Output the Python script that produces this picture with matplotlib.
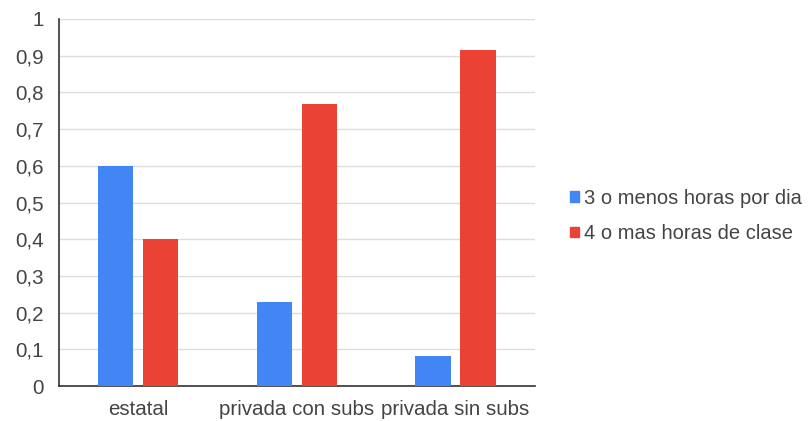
import numpy as np
import matplotlib.pyplot as plt
from matplotlib.patches import Patch

plt.rcParams['font.family'] = ['Liberation Sans', 'DejaVu Sans']

categorias = ["estatal", "privada con subs", "privada sin subs"]
menos_3 = [0.60, 0.228, 0.083]
mas_4 = [0.40, 0.767, 0.915]
series = ["3 o menos horas por dia", "4 o mas horas de clase"]
yticks = [0, 0.1, 0.2, 0.3, 0.4, 0.5, 0.6, 0.7, 0.8, 0.9, 1]
ylabels = ["0", "0,1", "0,2", "0,3", "0,4", "0,5", "0,6", "0,7", "0,8", "0,9", "1"]

azul = "#4285f4"
rojo = "#ea4335"
gris = "#444444"

fig = plt.figure(figsize=(8.12, 4.21), dpi=100)
ax = fig.add_axes([0.0727, 0.083, 0.586, 0.872])

x = np.arange(len(categorias))
w = 0.222
ax.bar(x - 0.142, menos_3, w, color=azul, zorder=3)
ax.bar(x + 0.142, mas_4, w, color=rojo, zorder=3)

ax.set_xlim(-0.5, 2.5)
ax.set_ylim(0, 1)
ax.set_yticks(yticks)
ax.set_yticklabels(ylabels)
ax.set_xticks(x)
ax.set_xticklabels(categorias)
ax.tick_params(axis='y', length=0, pad=11, labelsize=14.8, labelcolor=gris)
ax.tick_params(axis='x', length=0, pad=10, labelsize=14.8, labelcolor=gris)
ax.grid(axis='y', color="#dddddd", linewidth=1, zorder=0)

for s in ["top", "right"]:
    ax.spines[s].set_visible(False)
ax.spines["left"].set_color("#333333")
ax.spines["bottom"].set_color("#333333")
ax.spines["left"].set_linewidth(1.2)
ax.spines["bottom"].set_linewidth(1.2)

handles = [Patch(color=azul), Patch(color=rojo)]
leg = fig.legend(handles, series, loc="upper left", bbox_to_anchor=(0.689, 0.575),
                 frameon=False, fontsize=14.5, handlelength=0.45, handleheight=0.45,
                 handletextpad=0.25, labelspacing=0.8, borderpad=0)
for t in leg.get_texts():
    t.set_color(gris)

fig.savefig("out.png", dpi=100)
